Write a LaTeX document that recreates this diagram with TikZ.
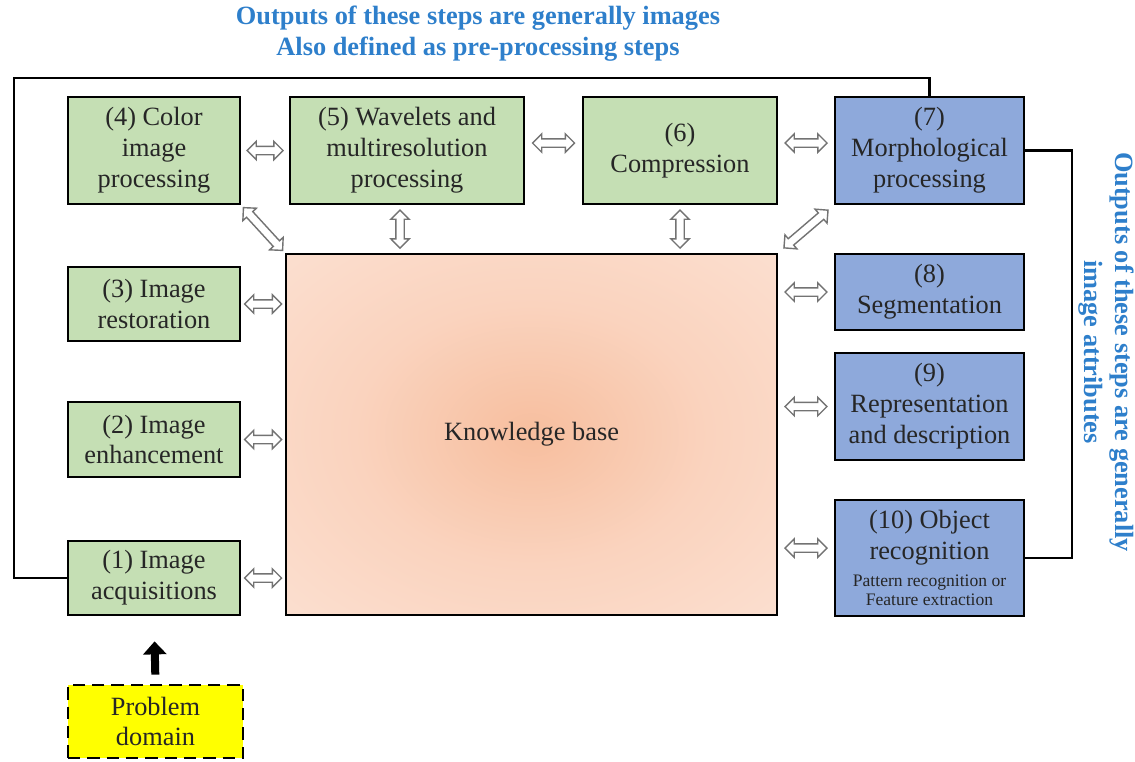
\documentclass[tikz,border=0pt]{standalone}
\usepackage{fontspec}
\setmainfont{Liberation Serif}
\usepackage{tikz}
\usetikzlibrary{arrows.meta,shapes.arrows}

\definecolor{stepgreen}{HTML}{C5DFB4}
\definecolor{stepblue}{HTML}{8EA9DB}
\definecolor{titleblue}{HTML}{2E7FCB}
\definecolor{kbcore}{HTML}{F7BE9E}
\definecolor{kbmid}{HTML}{FAD3BE}
\definecolor{kbedge}{HTML}{FDECE3}
\definecolor{probyellow}{HTML}{FFFF00}
\pgfdeclareradialshading{kbglow}{\pgfpoint{0bp}{0bp}}{color(0bp)=(kbcore); color(18bp)=(kbmid); color(55bp)=(kbedge); color(80bp)=(kbedge)}

\begin{document}
\begin{tikzpicture}[x=0.02cm,y=-0.02cm]
\tikzset{box/.style = {draw=black, line width=1.6pt, align=center, inner sep=0pt,
  text=black!85, font=\fontsize{15}{17.6}\selectfont}}
\tikzset{green/.style = {box, fill=stepgreen}}
\tikzset{blue/.style = {box, fill=stepblue}}
\tikzset{hollow/.style = {double arrow, draw=black!55, fill=white, line width=0.8pt,
  inner sep=0.07cm, double arrow head extend=0.1cm, minimum height=#1, sloped}}
\tikzset{link/.style = {draw=black, line width=1.4pt}}
\useasboundingbox (0,0) rectangle (1135,761);
% vertices
\node[green, minimum width=3.44cm, minimum height=2.14cm] (c4) at (154,150.5) {(4) Color\\image\\processing};
\node[green, minimum width=4.68cm, minimum height=2.14cm] (c5) at (407,150.5) {(5) Wavelets and\\multiresolution\\processing};
\node[green, minimum width=3.88cm, minimum height=2.14cm] (c6) at (680,150.5) {(6)\\Compression};
\node[blue, minimum width=3.78cm, minimum height=2.14cm] (c7) at (929.5,150.5) {(7)\\Morphological\\processing};
\node[green, minimum width=3.44cm, minimum height=1.48cm] (c3) at (154,304) {(3) Image\\restoration};
\node[green, minimum width=3.44cm, minimum height=1.5cm] (c2) at (154,439.5) {(2) Image\\enhancement};
\node[green, minimum width=3.44cm, minimum height=1.48cm] (c1) at (154,578) {(1) Image\\acquisitions};
\node[box, minimum width=9.82cm, minimum height=7.22cm, shading=kbglow] (kb) at (531.5,434.5) {Knowledge base};
\node[blue, minimum width=3.78cm, minimum height=1.52cm] (c8) at (929.5,292) {(8)\\Segmentation};
\node[blue, minimum width=3.78cm, minimum height=2.14cm] (c9) at (929.5,406.5) {(9)\\Representation\\and description};
\node[blue, minimum width=3.78cm, minimum height=2.32cm] (c10) at (929.5,558) {(10) Object\\recognition\\[-2.3pt]{\fontsize{10}{11.4}\selectfont Pattern recognition or}\\[-6.3pt]{\fontsize{10}{11.4}\selectfont Feature extraction}};
\node[box, fill=probyellow, dash pattern=on 7pt off 4pt, minimum width=3.5cm, minimum height=1.46cm] (pd) at (155.5,721.5) {Problem\\domain};
\node[text=titleblue, font=\bfseries\fontsize{15}{17.6}\selectfont, align=center] (ttl) at (478,33.5) {Outputs of these steps are generally images\\Also defined as pre-processing steps};
\node[text=titleblue, font=\bfseries\fontsize{15}{17.6}\selectfont, align=center, rotate=-90] (rtl) at (1106,352) {Outputs of these steps are generally\\image attributes};
\coordinate (tl) at (14,78);
\coordinate (rx) at (1072,0);

%edges
\draw[link] (c1.west) -| (tl) -| (c7.north);
\draw[link] (c7.east) -- (c7.east -| rx) -- (c10.east -| rx) -- (c10.east);
\draw[line width=0.16cm, -{Triangle[length=0.26cm,width=0.46cm]}, shorten <=0.18cm, shorten >=0.5cm] (pd.north) -- (c1.south);
\path (c4.east) -- node[hollow=0.72cm] {} (c5.west);
\path ([yshift=0.15cm]c5.east) -- node[hollow=0.84cm] {} ([yshift=0.15cm]c6.west);
\path ([yshift=0.15cm]c6.east) -- node[hollow=0.84cm] {} ([yshift=0.15cm]c7.west);
\path (c4.south east) -- node[hollow=1.16cm] {} (kb.north west);
\path ([xshift=-0.14cm]c5.south) -- node[hollow=0.76cm] {} ([xshift=-0.14cm]c5.south |- kb.north);
\path (c6.south) -- node[hollow=0.76cm] {} (c6.south |- kb.north);
\path (c7.south west) -- node[hollow=1.16cm] {} (kb.north east);
\path (c3.east) -- node[hollow=0.74cm] {} (c3.east -| kb.west);
\path (c2.east) -- node[hollow=0.74cm] {} (c2.east -| kb.west);
\path (c1.east) -- node[hollow=0.74cm] {} (c1.east -| kb.west);
\path (kb.east |- c8.west) -- node[hollow=0.84cm] {} (c8.west);
\path (kb.east |- c9.west) -- node[hollow=0.84cm] {} (c9.west);
\path ([yshift=0.2cm]kb.east |- c10.west) -- node[hollow=0.84cm] {} ([yshift=0.2cm]c10.west);
\end{tikzpicture}
\end{document}
